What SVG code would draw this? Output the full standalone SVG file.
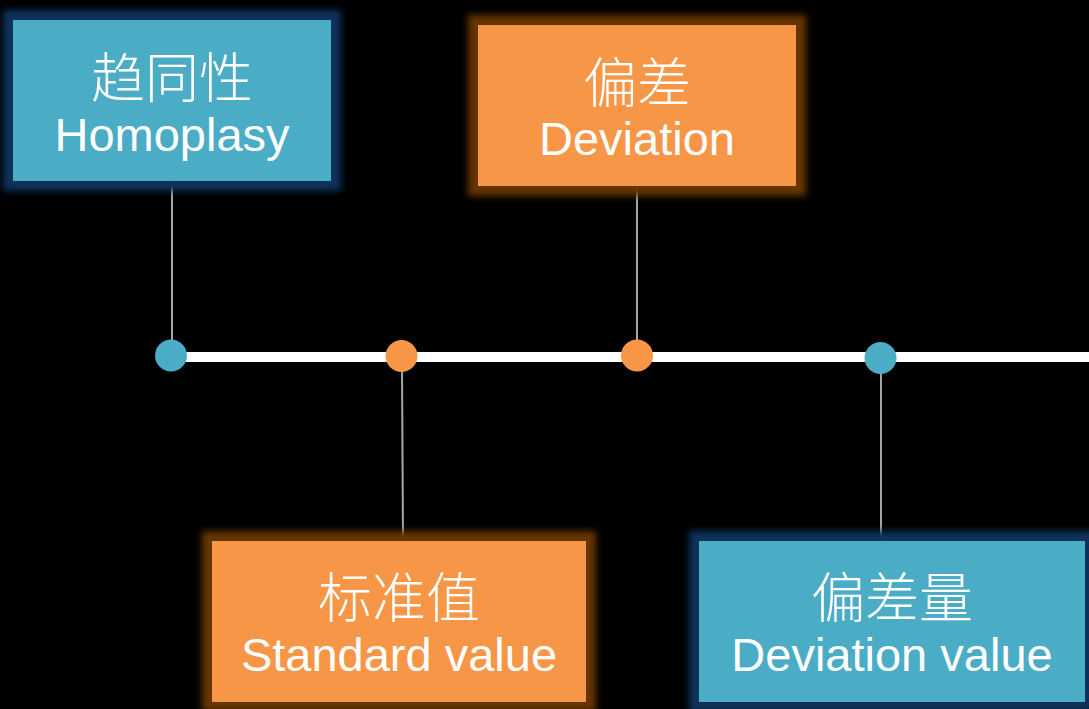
<svg xmlns="http://www.w3.org/2000/svg" width="1089" height="709" viewBox="0 0 1089 709">
  <style>
    .bg { fill: #000000; }
    .blue { fill: #4bacc6; }
    .orange { fill: #f79646; }
    .glow-blue { fill: #10305c; }
    .glow-orange { fill: #663600; }
    .conn { stroke: #a6a6a6; stroke-width: 2; fill: none; }
    .axis { stroke: #ffffff; stroke-width: 10; fill: none; }
    .zh { font-family: "Noto Sans CJK SC", "Liberation Sans", sans-serif; font-weight: 300; font-size: 54px; fill: #ffffff; text-anchor: middle; }
    .en { font-family: "Liberation Sans", Arial, sans-serif; font-size: 47px; fill: #ffffff; text-anchor: middle; }
  </style>
  <defs>
    <filter id="glow" x="-20%" y="-30%" width="140%" height="160%">
      <feGaussianBlur stdDeviation="3.5"/>
    </filter>
  </defs>
  <rect class="bg" x="0" y="0" width="1089" height="709"/>

  <g id="connectors">
    <line class="axis" x1="171" y1="357" x2="1089" y2="357"/>
    <line class="conn" x1="172" y1="183" x2="172" y2="345"/>
    <line class="conn" x1="637" y1="188" x2="637" y2="345"/>
    <line class="conn" x1="402" y1="368" x2="403" y2="540"/>
    <line class="conn" x1="881" y1="370" x2="881" y2="541"/>
    <circle class="blue" cx="171" cy="355.5" r="16"/>
    <circle class="orange" cx="401.5" cy="356" r="16"/>
    <circle class="orange" cx="637" cy="355.5" r="16"/>
    <circle class="blue" cx="880.5" cy="358" r="16"/>
  </g>

  <g id="node-homoplasy">
    <rect class="glow-blue" x="3" y="10" width="338" height="181" filter="url(#glow)"/>
    <rect class="blue" x="13" y="20" width="318" height="161"/>
    <text class="zh" x="172" y="98">趋同性</text>
    <text class="en" x="172" y="151">Homoplasy</text>
  </g>

  <g id="node-deviation">
    <rect class="glow-orange" x="468" y="15" width="338" height="181" filter="url(#glow)"/>
    <rect class="orange" x="478" y="25" width="318" height="161"/>
    <text class="zh" x="637" y="103">偏差</text>
    <text class="en" x="637" y="155">Deviation</text>
  </g>

  <g id="node-standard-value">
    <rect class="glow-orange" x="202" y="531" width="394" height="181" filter="url(#glow)"/>
    <rect class="orange" x="212" y="541" width="374" height="161"/>
    <text class="zh" x="399" y="618">标准值</text>
    <text class="en" x="399" y="671">Standard value</text>
  </g>

  <g id="node-deviation-value">
    <rect class="glow-blue" x="689" y="531" width="406" height="181" filter="url(#glow)"/>
    <rect class="blue" x="699" y="541" width="386" height="161"/>
    <text class="zh" x="892" y="618">偏差量</text>
    <text class="en" x="892" y="671">Deviation value</text>
  </g>
</svg>
